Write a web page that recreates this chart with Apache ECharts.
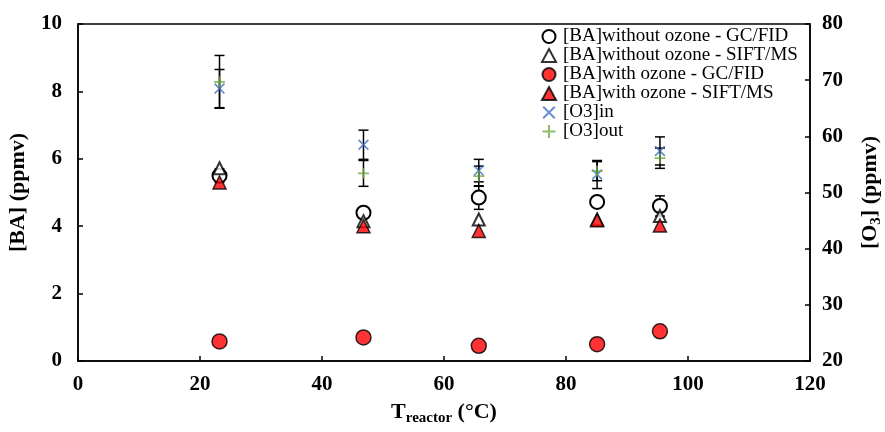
<!DOCTYPE html>
<html><head><meta charset="utf-8">
<script src="https://cdn.jsdelivr.net/npm/echarts@6/dist/echarts.min.js"></script>
<style>html,body{margin:0;padding:0;background:#fff}#c{width:885px;height:432px}</style>
</head><body><div id="c"></div>
<script>
const temps = [23.2, 46.8, 65.7, 85.1, 95.4];
const baNoO3Gc = [5.5, 4.4, 4.85, 4.72, 4.6];
const baNoO3GcErr = [0.2, 0.12, 0.35, 0.15, 0.3];
const baNoO3Sift = [5.72, 4.15, 4.2, 4.2, 4.3];
const baO3Gc = [0.58, 0.7, 0.45, 0.5, 0.88];
const baO3Sift = [5.3, 4.0, 3.86, 4.18, 4.02];
const o3In = [68.5, 58.5, 53.9, 53.2, 57.4];
const o3InErr = [3.4, 2.6, 2.0, 2.5, 2.5];
const o3Out = [69.7, 53.4, 52.9, 53.8, 56.1];
const o3OutErr = [4.7, 2.3, 1.8, 1.7, 1.8];
const names = ['[BA]without ozone - GC/FID','[BA]without ozone - SIFT/MS','[BA]with ozone - GC/FID','[BA]with ozone - SIFT/MS','[O3]in','[O3]out'];

const FONT = '"Liberation Serif", "Times New Roman", serif';
const pts = (ys) => temps.map((t,i)=>[t, ys[i]]);
const errPts = (ys, es) => temps.map((t,i)=>[t, ys[i], es[i]]);
const PLUS = 'path://M4.2,0H5.8V10H4.2Z M0,4.2H10V5.8H0Z';
const CROSS = 'path://M0,1.1L1.1,0L10,8.9L8.9,10Z M8.9,0L10,1.1L1.1,10L0,8.9Z';

function errRender(params, api){
  const x = api.value(0), y = api.value(1), e = api.value(2);
  const t = api.coord([x, y+e]), b = api.coord([x, y-e]);
  const w = 5;
  const st = {stroke:'#000', lineWidth:1.5};
  return {type:'group', children:[
    {type:'line', shape:{x1:t[0],y1:t[1],x2:b[0],y2:b[1]}, style:st},
    {type:'line', shape:{x1:t[0]-w,y1:t[1],x2:t[0]+w,y2:t[1]}, style:st},
    {type:'line', shape:{x1:b[0]-w,y1:b[1],x2:b[0]+w,y2:b[1]}, style:st}
  ]};
}

const chart = echarts.init(document.getElementById('c'));
const axisLabel = {color:'#000', fontFamily:FONT, fontWeight:'bold', fontSize:21};
const axisLine = {show:true, lineStyle:{color:'#000', width:1.5}};
const tick = {show:true, inside:true, length:5, lineStyle:{color:'#000', width:1.5}};
const richName = {
  b:{fontFamily:FONT, fontWeight:'bold', fontSize:22, color:'#000'},
  s:{fontFamily:FONT, fontWeight:'bold', fontSize:15, color:'#000', padding:[12,0,0,0]}
};
chart.setOption({
  animation:false,
  grid:{left:78, right:75, top:24, bottom:71, containLabel:false, outerBoundsMode:'none',
    show:true, borderColor:'#000', borderWidth:1.5},
  legend:{
    orient:'vertical', left:536, top:22, itemWidth:14, itemHeight:13, itemGap:0,
    textStyle:{fontFamily:FONT, fontSize:19, color:'#000', padding:[0,0,0,2], lineHeight:19},
    data:names
  },
  xAxis:{
    type:'value', min:0, max:120, interval:20,
    axisLine:axisLine, axisTick:tick, splitLine:{show:false},
    axisLabel:Object.assign({margin:13}, axisLabel),
    name:'{b|T}{s|reactor}{b| (°C)}', nameLocation:'middle', nameGap:38,
    nameTextStyle:{rich:richName}
  },
  yAxis:[{
    type:'value', min:0, max:10, interval:2,
    axisLine:axisLine, axisTick:tick, splitLine:{show:false},
    axisLabel:Object.assign({margin:16}, axisLabel),
    name:'[BA] (ppmv)', nameLocation:'middle', nameGap:49,
    nameTextStyle:{fontFamily:FONT, fontWeight:'bold', fontSize:22, color:'#000'}
  },{
    type:'value', min:20, max:80, interval:10,
    axisLine:axisLine, axisTick:tick, splitLine:{show:false},
    axisLabel:Object.assign({margin:12}, axisLabel),
    name:'{b|[O}{s|3}{b|] (ppmv)}', nameLocation:'middle', nameGap:47,
    nameTextStyle:{rich:richName}
  }],
  series:[
    {type:'custom', yAxisIndex:0, renderItem:errRender, data:errPts(baNoO3Gc, baNoO3GcErr), z:1},
    {type:'custom', yAxisIndex:1, renderItem:errRender, data:errPts(o3In, o3InErr), z:1},
    {type:'custom', yAxisIndex:1, renderItem:errRender, data:errPts(o3Out, o3OutErr), z:1},
    {name:names[0], type:'scatter', yAxisIndex:0, data:pts(baNoO3Gc), symbol:'circle', symbolSize:14,
      itemStyle:{color:'#fff', borderColor:'#000', borderWidth:2, opacity:1}, z:3},
    {name:names[1], type:'scatter', yAxisIndex:0, data:pts(baNoO3Sift), symbol:'triangle', symbolSize:12,
      itemStyle:{color:'#fff', borderColor:'#000', borderWidth:2}, z:3},
    {name:names[2], type:'scatter', yAxisIndex:0, data:pts(baO3Gc), symbol:'circle', symbolSize:15,
      itemStyle:{color:'#ff0000', borderColor:'#000', borderWidth:1.5}, z:4},
    {name:names[3], type:'scatter', yAxisIndex:0, data:pts(baO3Sift), symbol:'triangle', symbolSize:13,
      itemStyle:{color:'#ff0000', borderColor:'#000', borderWidth:1.5}, z:4},
    {name:names[4], type:'scatter', yAxisIndex:1, data:pts(o3In), symbol:CROSS, symbolSize:11,
      itemStyle:{color:'#4472c4'}, z:5},
    {name:names[5], type:'scatter', yAxisIndex:1, data:pts(o3Out), symbol:PLUS, symbolSize:11,
      itemStyle:{color:'#70ad47'}, z:5}
  ]
});
</script></body></html>
